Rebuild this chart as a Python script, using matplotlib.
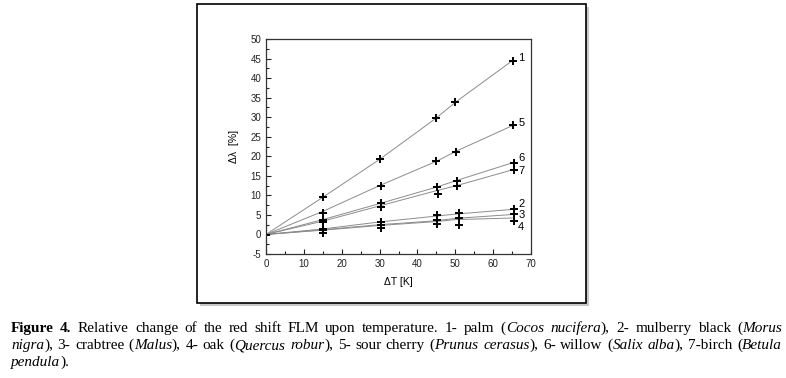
import numpy as np
import matplotlib.pyplot as plt
from matplotlib.patches import Rectangle
from matplotlib.ticker import MultipleLocator

plt.rcParams['axes.unicode_minus'] = False

# measured points (x in K, y in %) for each wood species
x_1 = [0, 15, 30, 45, 50, 65.3]
y_1 = [0, 9.5, 19.2, 29.8, 33.8, 44.4]
x_5 = [0, 15, 30.3, 45, 50.2, 65.3]
y_5 = [0, 5.6, 12.5, 18.7, 21.2, 28.0]
x_6 = [0, 15, 30.5, 45.3, 50.5, 65.5]
y_6 = [0, 3.8, 8.0, 12.1, 13.8, 18.4]
x_7 = [0, 15, 30.5, 45.5, 50.5, 65.5]
y_7 = [0, 3.2, 7.1, 10.4, 12.3, 16.4]
x_low = [0, 15, 30.5, 45.3, 51, 65.5]
y_2 = [0, 1.5, 3.3, 4.9, 5.4, 6.5]
y_3 = [0, 1.2, 2.5, 3.6, 4.1, 5.3]
y_4 = [0, 0.3, 1.6, 2.8, 2.5, 3.4]

# fitted curves as drawn in the figure
line_x = [0, 15, 30, 45, 50, 65]
line_1 = [0, 9.5, 19.2, 29.8, 33.8, 44.4]
line_5 = [0, 5.9, 12.5, 18.7, 21.2, 27.8]
line_6 = [0, 3.8, 7.9, 12.1, 13.7, 18.3]
line_7 = [0, 3.4, 7.3, 11.2, 12.4, 16.5]
line_2 = [0, 1.4, 3.2, 4.7, 5.2, 6.4]
line_3 = [0, 1.2, 2.5, 3.5, 4.1, 5.1]
line_4 = [0, 1.1, 2.3, 3.3, 3.8, 4.2]

labels = ['1', '5', '6', '7', '2', '3', '4']
label_y = [45.2, 28.4, 19.5, 16.3, 7.9, 4.9, 1.9]

W, H = 786, 378
fig = plt.figure(figsize=(W / 100, H / 100), dpi=100)
fig.patch.set_facecolor('white')

# framed box with shadow
fig.patches.append(Rectangle((200 / W, 1 - 306 / H), 389 / W, 299 / H,
                             transform=fig.transFigure, facecolor='#c8c8c8',
                             edgecolor='none', zorder=0))
fig.patches.append(Rectangle((197 / W, 1 - 303 / H), 389 / W, 299 / H,
                             transform=fig.transFigure, facecolor='white',
                             edgecolor='black', linewidth=1.2, zorder=1))

ax = fig.add_axes([266 / W, 1 - 254 / H, 265 / W, 215 / H])
ax.set_zorder(2)

lines_y = [line_1, line_5, line_6, line_7, line_2, line_3, line_4]
for ly in lines_y:
    ax.plot(line_x, ly, color='#8c8c8c', lw=0.7)

pts = [(x_1, y_1), (x_5, y_5), (x_6, y_6), (x_7, y_7),
       (x_low, y_2), (x_low, y_3), (x_low, y_4)]
for px, py in pts:
    ax.plot(px[1:], py[1:], '+', color='black', ms=6, mew=1.4)
ax.plot([0], [-0.2], '+', color='black', ms=6, mew=1.4)

for lab, ly in zip(labels, label_y):
    ax.text(66.6, ly, lab, fontsize=8, family='Liberation Sans', va='center')

ax.set_xlim(0, 70)
ax.set_ylim(-5, 50)
ax.xaxis.set_major_locator(MultipleLocator(10))
ax.xaxis.set_minor_locator(MultipleLocator(5))
ax.yaxis.set_major_locator(MultipleLocator(5))
ax.yaxis.set_minor_locator(MultipleLocator(2.5))
ax.tick_params(which='both', direction='in', labelsize=7, colors='#222222',
               width=0.8)
ax.tick_params(which='major', length=3.5)
ax.tick_params(which='minor', length=2)
for lab in ax.get_xticklabels() + ax.get_yticklabels():
    lab.set_family('Liberation Sans')
for sp in ax.spines.values():
    sp.set_linewidth(0.9)
    sp.set_color('#333333')

ax.set_xlabel('ΔT [K]', fontsize=7.5, family='Liberation Sans', labelpad=6)
ax.set_ylabel('Δλ  [%]', fontsize=7.5, family='Liberation Sans', labelpad=8)

# justified caption
caption = [
    [('Figure 4.', 'b'),
     (' Relative change of the red shift FLM upon temperature. 1- palm (', 'n'),
     ('Cocos nucifera', 'i'), ('), 2- mulberry black (', 'n'), ('Morus', 'i')],
    [('nigra', 'i'), ('), 3- crabtree (', 'n'), ('Malus', 'i'), ('), 4- oak (', 'n'),
     ('Quercus robur', 'i'), ('), 5- sour cherry (', 'n'), ('Prunus cerasus', 'i'),
     ('), 6- willow (', 'n'), ('Salix alba', 'i'), ('), 7-birch (', 'n'),
     ('Betula', 'i')],
    [('pendula', 'i'), (').', 'n')],
]
line_base = [332, 349, 366]
left, right = 11, 782
fs = 11
renderer = fig.canvas.get_renderer()


def props(st):
    return dict(fontsize=fs, family='Liberation Serif',
                weight='bold' if st == 'b' else 'normal',
                style='italic' if st == 'i' else 'normal')


def width(s, st):
    t = fig.text(0, 0, s, **props(st))
    w = t.get_window_extent(renderer).width
    t.remove()
    return w


space_w = width('a a', 'n') - width('aa', 'n')

for li, runs in enumerate(caption):
    # words: lists of (fragment, style); gaps between words
    words = [[]]
    for text, st in runs:
        parts = text.split(' ')
        for k, p in enumerate(parts):
            if k > 0:
                words.append([])
            if p:
                words[-1].append((p, st))
    words = [w for w in words if w]
    widths = [[width(p, st) for p, st in w] for w in words]
    total = sum(sum(ws) for ws in widths)
    n_gaps = len(words) - 1
    if li < len(caption) - 1:
        gap = (right - left - total) / n_gaps
    else:
        gap = space_w
    x = left
    for w, ws in zip(words, widths):
        for (p, st), pw in zip(w, ws):
            fig.text(x / W, 1 - line_base[li] / H, p, va='baseline', **props(st))
            x += pw
        x += gap

fig.savefig('out.png', dpi=100, facecolor='white')
